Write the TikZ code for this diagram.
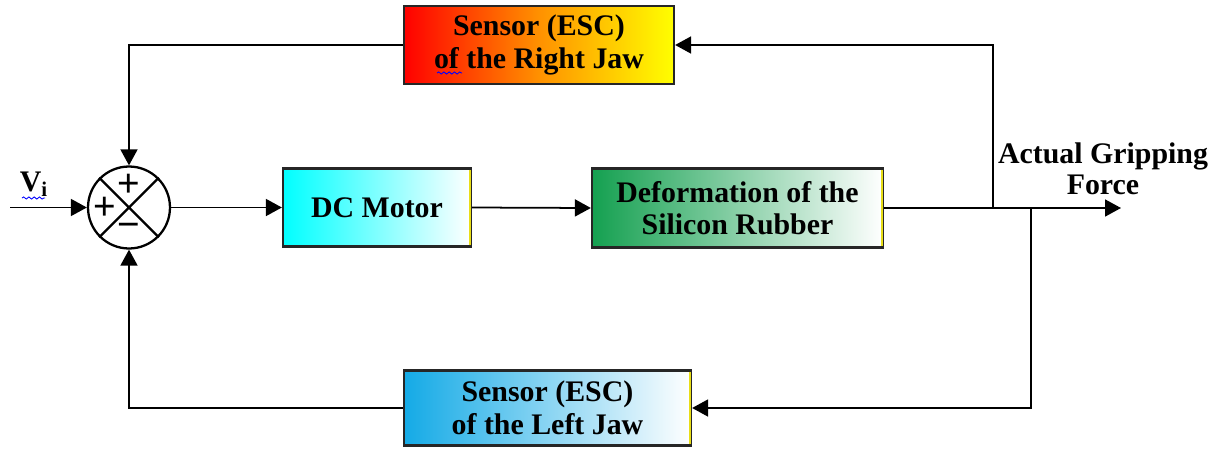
\documentclass[tikz,border=0pt]{standalone}
\usepackage{fontspec}
\setmainfont{Liberation Serif}
\newfontfamily\symfont{Liberation Sans}
\usetikzlibrary{arrows.meta,shadings,decorations.pathmorphing}
\definecolor{rgreen}{RGB}{20,160,80}
\definecolor{rblue}{RGB}{20,170,230}
\definecolor{rorange}{RGB}{255,145,0}
\begin{document}
\begin{tikzpicture}[x=0.02cm,y=-0.02cm,
  blk/.style={draw=black!85,line width=1.3pt,inner sep=0pt,align=center,
    font=\fontsize{17}{18.5}\selectfont\bfseries},
  arr/.style={line width=1pt,-{Triangle[length=0.32cm,width=0.34cm]}},
  lbl/.style={font=\fontsize{17}{17.5}\selectfont\bfseries,align=center,inner sep=0pt},
  sgn/.style={font=\symfont\fontsize{22}{22}\selectfont,inner sep=0pt},
  squig/.style={blue,line width=0.5pt,decorate,decoration={snake,amplitude=0.6pt,segment length=3pt}}]
\useasboundingbox (0,0) rectangle (1215,450);

% summing junction
\node[draw,circle,line width=1.3pt,minimum size=1.64cm,inner sep=0pt] (sum) at (129,207.5) {};
\draw[line width=1.3pt] (sum.north west) -- (sum.south east) (sum.north east) -- (sum.south west);
\node[sgn] (pt) at (129,185) {+};
\node[sgn] (pl) at (105,208) {+};
\node[sgn] (pb) at (129,230) {−};

% blocks
\node[blk,minimum width=5.4cm,minimum height=1.56cm,left color=red,right color=yellow,middle color=rorange] (top) at (539,45) {Sensor (ESC)\\of the Right Jaw};
\node[blk,minimum width=3.76cm,minimum height=1.56cm,left color=cyan,right color=white] (dc) at (377,207.5) {DC Motor};
\node[blk,minimum width=5.82cm,minimum height=1.58cm,left color=rgreen,right color=white] (def) at (737.5,208) {Deformation of the\\Silicon Rubber};
\node[blk,minimum width=5.74cm,minimum height=1.5cm,left color=rblue,right color=white] (bot) at (547.5,408) {Sensor (ESC)\\of the Left Jaw};

% thin yellow right edges
\draw[yellow!90!black,line width=0.8pt] ([xshift=-1.3pt,yshift=-1.5pt]dc.north east) -- ([xshift=-1.3pt,yshift=1.5pt]dc.south east);
\draw[yellow!90!black,line width=0.8pt] ([xshift=-1.3pt,yshift=-1.5pt]def.north east) -- ([xshift=-1.3pt,yshift=1.5pt]def.south east);
\draw[yellow!90!black,line width=0.8pt] ([xshift=-1.3pt,yshift=-1.5pt]bot.north east) -- ([xshift=-1.3pt,yshift=1.5pt]bot.south east);

% labels
\node[lbl] (vi) at (34,184) {V\textsubscript{i}};
\node[lbl] (force) at (1103,169) {Actual Gripping\\Force};

% spell-check squiggles
\draw[squig] (22,198) -- (45,198);
\draw[squig] (437,73) -- (462,73);

% coordinates
\coordinate (in) at (10,207.5);
\coordinate (out) at (1121,208);
\coordinate (b1) at (993,208);
\coordinate (b2) at (1031,208);

% connectors
\draw[arr] (in) -- (sum.west);
\draw[arr] (sum.east) -- (dc.west);
\draw[arr] (dc.east) -- (def.west);
\draw[arr] (def.east) -- (out);
\draw[arr] (b1) |- (top.east);
\draw[arr] (b2) |- (bot.east);
\draw[arr] (top.west) -| (sum.north);
\draw[arr] (bot.west) -| (sum.south);
\end{tikzpicture}
\end{document}
